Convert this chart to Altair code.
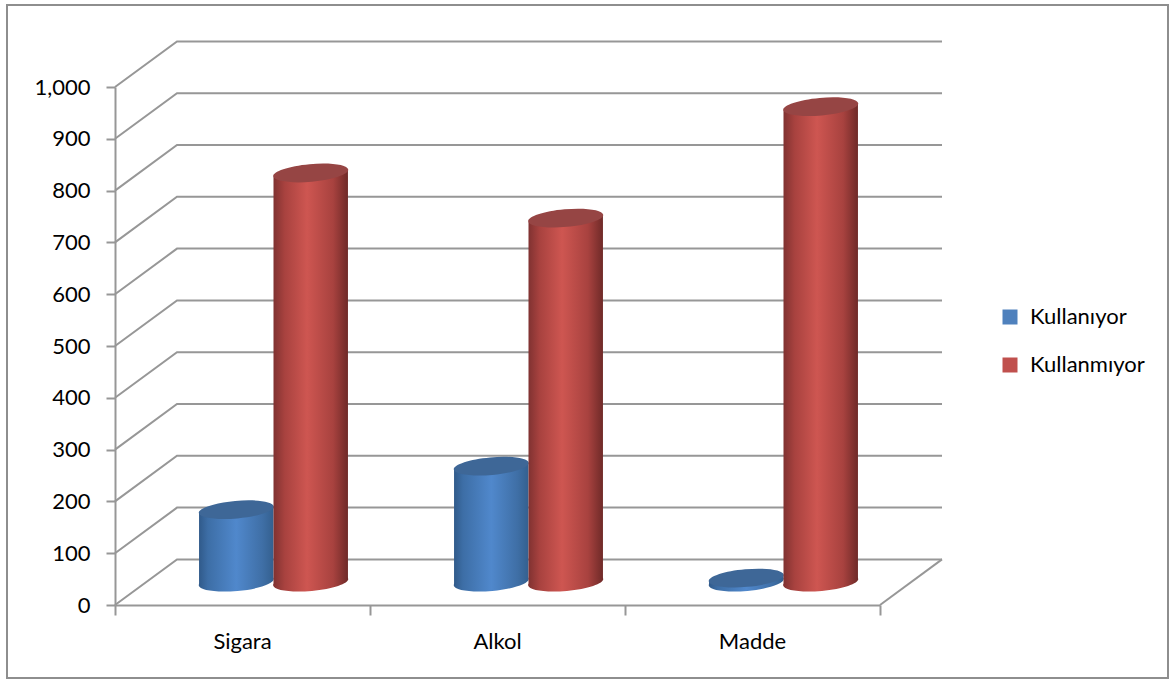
import altair as alt
import pandas as pd

categories = ["Sigara", "Alkol", "Madde"]
kullaniyor = [140, 224, 8]
kullanmiyor = [790, 703, 918]
series_names = ["Kullanıyor", "Kullanmıyor"]
series_colors = ["#4F81BD", "#C0504D"]
y_ticks = list(range(0, 1001, 100))

FONT = "Lato"
GRID = "#979797"

# Plot area holds the front face of the 3D box; x is in category slots, y in chart units.
W, H = 765, 518
DEPTH_X = 62 / 255      # oblique depth of the box, in slots
DEPTH_Y = 88            # oblique depth of the box, in value units
BAR_W = 0.292           # cylinder width, in slots
TILT = 6.5              # rise of the ellipse's right end over its centre, in value units
ELLIPSE_SIZE = 5625
ELLIPSE = "M -1 0.09 A 1 0.235 -5 1 1 1 -0.09 A 1 0.235 -5 1 1 -1 0.09 Z"

X = alt.Scale(domain=[0, 3], nice=False, zero=False)
Y = alt.Scale(domain=[0, 1000], nice=False, zero=False)


def gradient(stops):
    return alt.Gradient(
        gradient="linear", x1=0, x2=1, y1=0, y2=0,
        stops=[alt.GradientStop(offset=o, color=c) for o, c in stops],
    )


blue_side = gradient([(0, "#305A8A"), (0.12, "#3D6EA6"), (0.5, "#5088CC"), (0.85, "#3F6FA6"), (1, "#34608F")])
red_side = gradient([(0, "#803231"), (0.15, "#A8423F"), (0.45, "#CE5651"), (0.8, "#A8423F"), (1, "#6F2A28")])

# Box wireframe: wall edge, back wall line, plus the right edge of the floor.
wire_rows = []
for v in y_ticks:
    wire_rows += [
        {"line": v, "order": 0, "x": 0, "y": v},
        {"line": v, "order": 1, "x": DEPTH_X, "y": v + DEPTH_Y},
        {"line": v, "order": 2, "x": 3 + DEPTH_X, "y": v + DEPTH_Y},
    ]
wire_rows += [
    {"line": -1, "order": 0, "x": 3, "y": 0},
    {"line": -1, "order": 1, "x": 3 + DEPTH_X, "y": DEPTH_Y},
]
wire = (
    alt.Chart(pd.DataFrame(wire_rows))
    .mark_line(color=GRID, strokeWidth=2, clip=False)
    .encode(
        x=alt.X(
            "x:Q", scale=X, title=None,
            axis=alt.Axis(
                values=[0, 1, 2, 3], labels=False, grid=False, tickSize=10, tickWidth=2,
                tickColor=GRID, domainColor=GRID, domainWidth=2,
            ),
        ),
        y=alt.Y(
            "y:Q", scale=Y, title=None,
            axis=alt.Axis(
                values=y_ticks, grid=False, tickSize=9, tickWidth=2, tickColor=GRID,
                domainColor=GRID, domainWidth=2, labelFont=FONT, labelFontSize=22,
                labelColor="#000000", labelPadding=16,
            ),
        ),
        detail="line:N",
        order="order:Q",
    )
)


def cylinder_layers(values, offset, side, top_color):
    """Side, base and lid of one series' cylinders, centred on the mid-depth plane."""
    side_rows, end_rows = [], []
    for i, (cat, v) in enumerate(zip(categories, values)):
        cx = i + 0.5 + offset + DEPTH_X / 2
        base = DEPTH_Y / 2
        side_rows += [
            {"cat": cat, "x": cx - BAR_W / 2, "y": v + base - TILT, "y2": base - TILT},
            {"cat": cat, "x": cx + BAR_W / 2, "y": v + base + TILT, "y2": base + TILT},
        ]
        end_rows.append({"cat": cat, "x": cx, "top": v + base, "base": base})
    sides = pd.DataFrame(side_rows)
    ends = pd.DataFrame(end_rows)
    base_mark = (
        alt.Chart(ends)
        .mark_point(shape=ELLIPSE, size=ELLIPSE_SIZE, filled=True, fill=side, opacity=1, strokeWidth=0, clip=False)
        .encode(x=alt.X("x:Q", scale=X), y=alt.Y("base:Q", scale=Y))
    )
    side_mark = (
        alt.Chart(sides)
        .mark_area(color=side, opacity=1, clip=False)
        .encode(x=alt.X("x:Q", scale=X), y=alt.Y("y:Q", scale=Y), y2="y2:Q", detail="cat:N")
    )
    lid_mark = (
        alt.Chart(ends)
        .mark_point(shape=ELLIPSE, size=ELLIPSE_SIZE, filled=True, fill=top_color, opacity=1, strokeWidth=0, clip=False)
        .encode(x=alt.X("x:Q", scale=X), y=alt.Y("top:Q", scale=Y))
    )
    return [base_mark, side_mark, lid_mark]


blue = cylinder_layers(kullaniyor, -BAR_W / 2, blue_side, "#3E6797")
red = cylinder_layers(kullanmiyor, BAR_W / 2, red_side, "#964544")

category_labels = (
    alt.Chart(pd.DataFrame({"label": categories, "x": [i + 0.5 for i in range(len(categories))]}))
    .mark_text(font=FONT, fontSize=22, color="#000000", clip=False)
    .encode(x=alt.X("x:Q", scale=X), y=alt.value(555), text="label:N")
)

# Invisible points carry the colour scale so the legend shows the flat series colours.
legend_layer = (
    alt.Chart(pd.DataFrame({"series": series_names, "x": [0, 0], "y": [0, 0]}))
    .mark_point(filled=True, opacity=0, size=1)
    .encode(
        x=alt.X("x:Q", scale=X),
        y=alt.Y("y:Q", scale=Y),
        color=alt.Color(
            "series:N",
            scale=alt.Scale(domain=series_names, range=series_colors),
            legend=alt.Legend(
                title=None, orient="none", legendX=884, legendY=219, padding=0,
                symbolType="square", symbolSize=225, symbolOpacity=1, symbolStrokeWidth=0,
                labelFont=FONT, labelFontSize=22, labelColor="#000000", labelOffset=9,
                rowPadding=26,
            ),
        ),
    )
)

frame = (
    alt.Chart(pd.DataFrame({"name": ["frame"]}))
    .mark_rect(filled=False, stroke="#8E8E8E", strokeWidth=2, clip=False)
    .encode(x=alt.value(-108), x2=alt.value(1053), y=alt.value(-82), y2=alt.value(591))
)

chart = alt.layer(frame, wire, *blue, *red, category_labels, legend_layer).properties(
    width=W,
    height=H,
    padding={"left": 115, "top": 87, "right": 295, "bottom": 75},
    autosize=alt.AutoSizeParams(type="none"),
    background="#FFFFFF",
).configure_view(stroke=None)

chart.save("out.html", embed_options={"renderer": "svg", "actions": False})
